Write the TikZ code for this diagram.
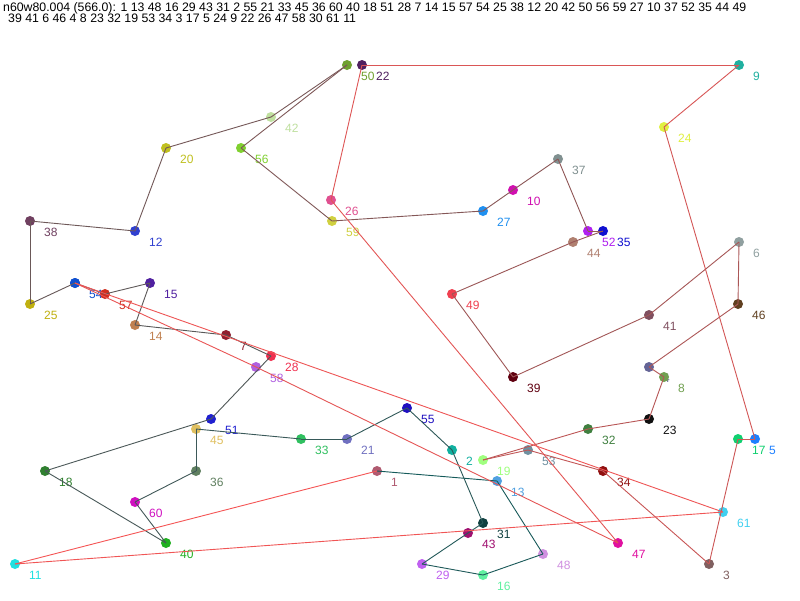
\documentclass[tikz,border=0pt]{standalone}
\usepackage{fontspec}
\setmainfont{Liberation Sans}
\definecolor{tealstart}{RGB}{20,90,90}
\definecolor{redend}{RGB}{245,85,85}
\definecolor{c1}{RGB}{176,90,112}
\definecolor{c2}{RGB}{16,176,160}
\definecolor{c3}{RGB}{128,96,96}
\definecolor{c4}{RGB}{100,100,150}
\definecolor{c5}{RGB}{30,128,255}
\definecolor{c6}{RGB}{144,160,160}
\definecolor{c7}{RGB}{144,32,48}
\definecolor{c8}{RGB}{112,160,80}
\definecolor{c9}{RGB}{32,176,160}
\definecolor{c10}{RGB}{208,16,176}
\definecolor{c11}{RGB}{32,224,224}
\definecolor{c12}{RGB}{48,64,208}
\definecolor{c13}{RGB}{80,160,224}
\definecolor{c14}{RGB}{192,128,80}
\definecolor{c15}{RGB}{80,32,160}
\definecolor{c16}{RGB}{96,240,160}
\definecolor{c17}{RGB}{16,208,112}
\definecolor{c18}{RGB}{48,128,48}
\definecolor{c19}{RGB}{160,255,128}
\definecolor{c20}{RGB}{192,192,32}
\definecolor{c21}{RGB}{112,112,192}
\definecolor{c22}{RGB}{80,32,96}
\definecolor{c23}{RGB}{16,16,16}
\definecolor{c24}{RGB}{224,240,64}
\definecolor{c25}{RGB}{192,176,16}
\definecolor{c26}{RGB}{224,80,144}
\definecolor{c27}{RGB}{32,144,240}
\definecolor{c28}{RGB}{240,48,80}
\definecolor{c29}{RGB}{192,96,240}
\definecolor{c30}{RGB}{16,80,208}
\definecolor{c31}{RGB}{16,64,64}
\definecolor{c32}{RGB}{64,128,64}
\definecolor{c33}{RGB}{48,192,96}
\definecolor{c34}{RGB}{144,16,16}
\definecolor{c35}{RGB}{16,16,208}
\definecolor{c36}{RGB}{96,128,96}
\definecolor{c37}{RGB}{128,144,144}
\definecolor{c38}{RGB}{112,64,96}
\definecolor{c39}{RGB}{96,0,16}
\definecolor{c40}{RGB}{32,176,32}
\definecolor{c41}{RGB}{128,80,96}
\definecolor{c42}{RGB}{192,224,160}
\definecolor{c43}{RGB}{160,16,112}
\definecolor{c44}{RGB}{176,128,112}
\definecolor{c45}{RGB}{224,192,96}
\definecolor{c46}{RGB}{96,64,32}
\definecolor{c47}{RGB}{224,16,160}
\definecolor{c48}{RGB}{208,144,224}
\definecolor{c49}{RGB}{240,64,80}
\definecolor{c50}{RGB}{112,160,48}
\definecolor{c51}{RGB}{32,32,208}
\definecolor{c52}{RGB}{176,32,240}
\definecolor{c53}{RGB}{112,144,160}
\definecolor{c54}{RGB}{16,80,208}
\definecolor{c55}{RGB}{32,16,192}
\definecolor{c56}{RGB}{128,208,48}
\definecolor{c57}{RGB}{208,48,32}
\definecolor{c58}{RGB}{176,96,224}
\definecolor{c59}{RGB}{208,208,64}
\definecolor{c60}{RGB}{208,16,192}
\definecolor{c61}{RGB}{64,208,240}
\begin{document}
\begin{tikzpicture}[x=1pt,y=-1pt,
  dot/.style={circle,inner sep=0pt,minimum size=10pt,draw=none},
  lab/.style={anchor=west,inner sep=0pt,font=\fontsize{12}{14}\selectfont},
  hdr/.style={anchor=north west,inner sep=0pt,font=\fontsize{12.3}{14}\selectfont},
  touredge/.style={line width=0.9pt}]
\useasboundingbox (0,0) rectangle (800,600);
\fill[white] (0,0) rectangle (800,600);
\node[hdr] (hdr1) at (3,2) {n60w80.004 (566.0): 1 13 48 16 29 43 31 2 55 21 33 45 36 60 40 18 51 28 7 14 15 57 54 25 38 12 20 42 50 56 59 27 10 37 52 35 44 49};
\node[hdr] (hdr2) at (8,14) {39 41 6 46 4 8 23 32 19 53 34 3 17 5 24 9 22 26 47 58 30 61 11};
% node 30 (label hidden under 54)
\node[dot,fill=c30] (n30) at (75,283) {};
\foreach \n/\x/\y in {1/377/471,2/452/450,3/709/564,4/649/367,5/755/439,6/739/242,7/226/335,8/664/377,9/739/65,10/513/190,
  11/15/564,12/135/231,13/497/481,14/135/325,15/150/283,16/483/575,17/738/439,18/45/471,19/483/460,20/166/148,
  21/347/439,22/362/65,23/649/419,24/664/127,25/30/304,26/331/200,27/483/211,28/271/356,29/422/564,
  31/483/523,32/588/429,33/301/439,34/603/471,35/603/231,36/196/471,37/558/159,38/30/221,39/513/377,40/166/543,
  41/649/315,42/271/117,43/468/533,44/573/242,45/196/429,46/738/304,47/618/543,48/543/554,49/452/294,50/347/65,
  51/211/419,52/588/231,53/528/450,54/75/283,55/407/408,56/241/148,57/105/294,58/256/367,59/332/221,60/135/502,61/723/512}{
  \node[lab,text=c\n] (l\n) at (\x+14,\y+11) {\n};
  \node[dot,fill=c\n] (n\n) at (\x,\y) {};
}
\foreach \a/\b [count=\k from 0] in {1/13,13/48,48/16,16/29,29/43,43/31,31/2,2/55,55/21,21/33,33/45,45/36,36/60,60/40,40/18,18/51,51/28,28/7,7/14,14/15,15/57,57/54,54/25,25/38,38/12,12/20,20/42,42/50,50/56,56/59,59/27,27/10,10/37,37/52,52/35,35/44,44/49,49/39,39/41,41/6,6/46,46/4,4/8,8/23,23/32,32/19,19/53,53/34,34/3,3/17,17/5,5/24,24/9,9/22,22/26,26/47,47/58,58/30,30/61,61/11,11/1}{
  \pgfmathtruncatemacro\p{round(\k/60*100)}
  \draw[touredge,color=redend!\p!tealstart] (n\a.center) -- (n\b.center);
}
\end{tikzpicture}
\end{document}
